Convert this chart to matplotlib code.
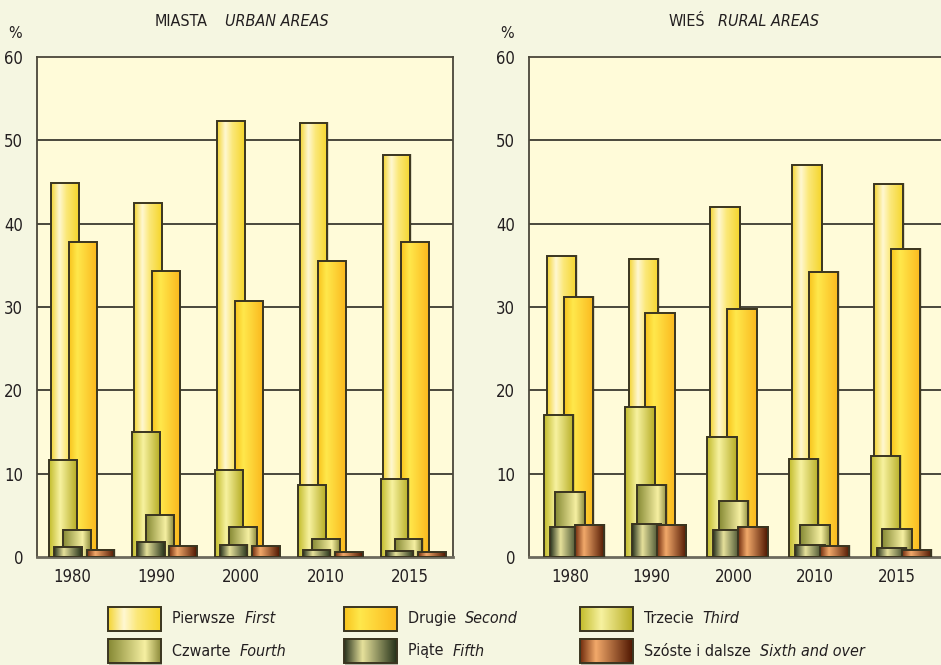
import numpy as np
import matplotlib
matplotlib.use("Agg")
import matplotlib.pyplot as plt
from matplotlib.colors import LinearSegmentedColormap
from matplotlib.patches import Rectangle

plt.rcParams['font.family'] = ['DejaVu Sans']
plt.rcParams['font.stretch'] = 'condensed'

years = ["1980", "1990", "2000", "2010", "2015"]
series_pl = ["Pierwsze", "Drugie", "Trzecie", "Czwarte", "Piąte", "Szóste i dalsze"]
series_en = ["First", "Second", "Third", "Fourth", "Fifth", "Sixth and over"]

urban_first = [44.9, 42.5, 52.3, 52.1, 48.2]
urban_second = [37.8, 34.3, 30.7, 35.5, 37.8]
urban_third = [11.7, 15.0, 10.5, 8.6, 9.4]
urban_fourth = [3.3, 5.0, 3.6, 2.2, 2.2]
urban_fifth = [1.2, 1.8, 1.4, 0.8, 0.7]
urban_sixth = [0.9, 1.3, 1.3, 0.6, 0.55]

rural_first = [36.1, 35.8, 42.0, 47.0, 44.8]
rural_second = [31.2, 29.3, 29.8, 34.2, 37.0]
rural_third = [17.1, 18.0, 14.4, 11.8, 12.1]
rural_fourth = [7.8, 8.6, 6.7, 3.9, 3.4]
rural_fifth = [3.6, 4.0, 3.2, 1.5, 1.1]
rural_sixth = [3.9, 3.9, 3.6, 1.3, 0.8]

gradients = [
    [(0, '#f3d431'), (0.3, '#fff8d2'), (0.55, '#fbe87a'), (1, '#f5d52a')],
    [(0, '#f8c31c'), (0.3, '#ffe84c'), (1, '#fbb81d')],
    [(0, '#c2bb2a'), (0.4, '#f7f2a0'), (1, '#b7ad24')],
    [(0, '#858833'), (0.7, '#f6f0a2'), (1, '#8c8a3a')],
    [(0, '#26301c'), (0.35, '#e6e19b'), (1, '#233018')],
    [(0, '#6e2a0c'), (0.3, '#f2a96a'), (1, '#4e1500')],
]
cmaps = [LinearSegmentedColormap.from_list(f"g{i}", g) for i, g in enumerate(gradients)]
grad = np.linspace(0, 1, 256).reshape(1, -1)

FIG_BG = '#f5f6e1'
AX_BG = '#fffbd9'
EDGE = '#3a3520'
TXT = '#231f20'
FS = 11.5

fig = plt.figure(figsize=(9.41, 6.65), dpi=100, facecolor=FIG_BG)

def fx(px):
    return px / 941

def fy(py):
    return 1 - py / 665

def draw_gradient_bar(ax, rect, cmap, z):
    x0, w, h = rect.get_x(), rect.get_width(), rect.get_height()
    if h <= 0:
        return
    ax.add_patch(Rectangle((x0 + w * 0.05, 0), w, h + 0.12, facecolor='#00000022',
                           edgecolor='none', zorder=z - 0.02))
    ax.imshow(grad, cmap=cmap, extent=(x0, x0 + w, 0, h), aspect='auto',
              interpolation='bilinear', zorder=z - 0.01)
    rect.set_zorder(z)

def panel(left_px, data, centers, width, xmax, tickpos, title_pl, title_en, title_x, gap):
    ax = fig.add_axes([fx(left_px), fy(557), fx(416), 500 / 665])
    ax.set_facecolor(AX_BG)
    ax.set_xlim(0, xmax)
    ax.set_ylim(0, 60)
    idx = np.arange(len(years))
    for k, vals in enumerate(data):
        bars = ax.bar(idx + centers[k], vals, width=width, facecolor='none',
                      edgecolor=EDGE, linewidth=1.4)
        for r in bars:
            draw_gradient_bar(ax, r, cmaps[k], 2 + k)
    for yv in range(10, 60, 10):
        ax.axhline(yv, color='#3c3a30', lw=1.3, zorder=1)
    ax.set_yticks(range(0, 61, 10))
    ax.set_yticklabels([str(v) for v in range(0, 61, 10)], fontsize=FS + 0.5, color=TXT)
    ax.set_xticks(idx + np.array(tickpos))
    ax.set_xticklabels(years, fontsize=FS + 0.5, color=TXT)
    ax.tick_params(length=0, pad=8)
    ax.tick_params(axis='y', pad=10)
    for s in ax.spines.values():
        s.set_color('#4a463a')
        s.set_linewidth(1.3)
    ax.spines['bottom'].set_color('#6d6a5d')
    ax.spines['bottom'].set_linewidth(2)
    fig.text(fx(left_px - 22), fy(33), "%", fontsize=FS, color=TXT, ha='center', va='center')
    fig.text(fx(title_x), fy(22), title_pl, fontsize=FS, color=TXT, ha='right', va='center')
    fig.text(fx(title_x + gap), fy(22), title_en, fontsize=FS, color=TXT, ha='left',
             va='center', style='italic')
    return ax

urban = [urban_first, urban_second, urban_third, urban_fourth, urban_fifth, urban_sixth]
rural = [rural_first, rural_second, rural_third, rural_fourth, rural_fifth, rural_sixth]

panel(37, urban, [0.337, 0.557, 0.314, 0.483, 0.372, 0.764], 0.333, 416 / 82.9,
      [0.42, 0.44, 0.46, 0.48, 0.5], "MIASTA", "URBAN AREAS", 208, 17)
panel(529, rural, [0.40, 0.605, 0.36, 0.50, 0.435, 0.74], 0.36, 416 / 81.75,
      [0.5] * 5, "WIEŚ", "RURAL AREAS", 705, 13)

# legend
lax = fig.add_axes([0, 0, 1, fy(590)])
lax.set_xlim(0, 941)
lax.set_ylim(665, 590)
lax.axis('off')
col_x = [108, 344, 580]
row_y = [607, 639]
text_gap = 64
for k in range(6):
    r, c = divmod(k, 3)
    x0, y0 = col_x[c], row_y[r]
    lax.add_patch(Rectangle((x0 + 1.5, y0 + 1.5), 53, 24, facecolor='#00000040',
                            edgecolor='none', zorder=1))
    lax.imshow(grad, cmap=cmaps[k], extent=(x0, x0 + 53, y0 + 24, y0), aspect='auto',
               interpolation='bilinear', zorder=2)
    lax.add_patch(Rectangle((x0, y0), 53, 24, facecolor='none', edgecolor=EDGE,
                            lw=1.4, zorder=3))
    t = lax.text(x0 + text_gap, y0 + 12, series_pl[k] + "  ", fontsize=FS, color=TXT,
                 va='center', ha='left')
    fig.canvas.draw()
    bb = t.get_window_extent()
    inv = lax.transData.inverted()
    xe = inv.transform((bb.x1, bb.y0))[0]
    lax.text(xe, y0 + 12, series_en[k], fontsize=FS, color=TXT, va='center',
             ha='left', style='italic')
lax.set_xlim(0, 941)
lax.set_ylim(665, 590)

fig.savefig("out.png", dpi=100, facecolor=FIG_BG)
